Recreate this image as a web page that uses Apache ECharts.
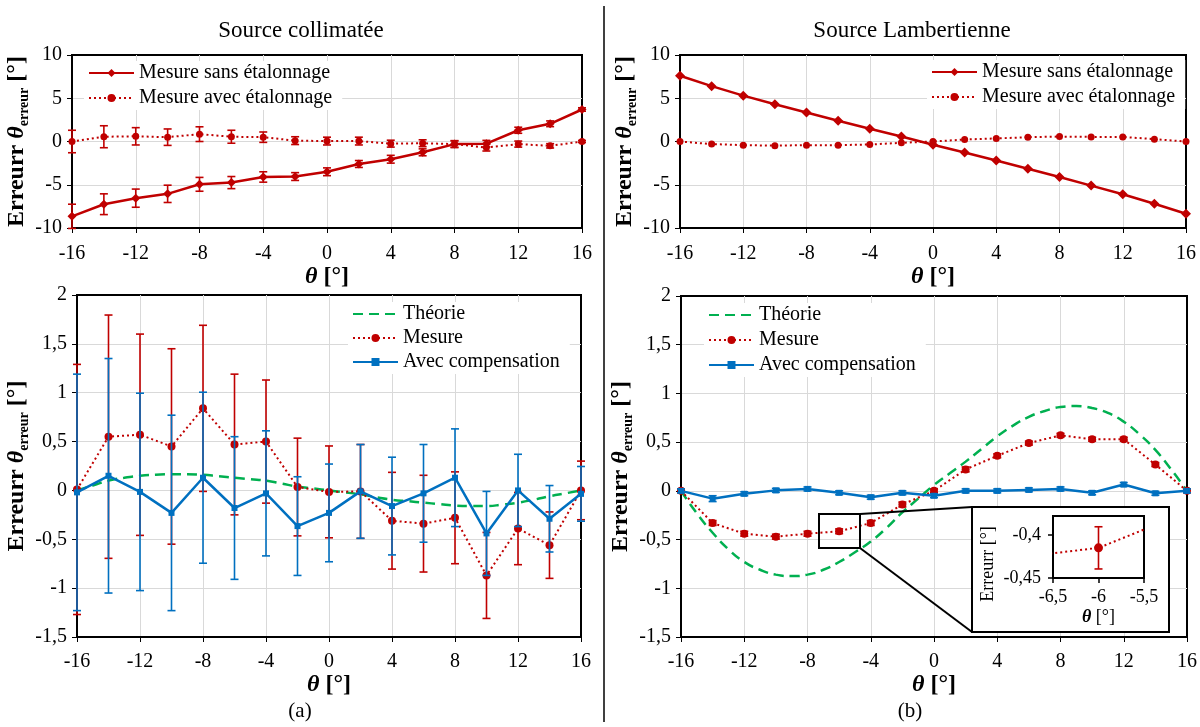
<!DOCTYPE html>
<html><head><meta charset="utf-8">
<script src="https://cdn.jsdelivr.net/npm/echarts@6/dist/echarts.min.js"></script>
<style>html,body{margin:0;padding:0;background:#fff}#c{width:1200px;height:727px}</style>
</head><body><div id="c"></div>
<script>
// ---------- data ----------
const theta = [-16,-14,-12,-10,-8,-6,-4,-2,0,2,4,6,8,10,12,14,16];
const theoTheta = [-16,-15,-14,-13,-12,-11,-10,-9,-8,-7,-6,-5,-4,-3,-2,-1,0,1,2,3,4,5,6,7,8,9,10,11,12,13,14,15,16];

// (a) top : source collimatée
const collSans    = [-8.65,-7.25,-6.55,-6.05,-4.95,-4.75,-4.1,-4.05,-3.5,-2.6,-2.05,-1.25,-0.3,-0.25,1.3,2.05,3.7];
const collSansErr = [1.4,1.2,1.05,1.0,0.8,0.7,0.6,0.45,0.45,0.4,0.45,0.4,0.37,0.38,0.35,0.33,0.2];
const collAvec    = [0,0.55,0.6,0.5,0.85,0.55,0.5,0.1,0.05,0.05,-0.25,-0.2,-0.3,-0.7,-0.3,-0.5,0];
const collAvecErr = [1.3,1.27,1.0,0.95,0.85,0.75,0.6,0.45,0.45,0.45,0.4,0.4,0.4,0.4,0.35,0.25,0.12];

// (b) top : source lambertienne
const lambSans = [7.6,6.4,5.3,4.3,3.35,2.4,1.47,0.58,-0.38,-1.27,-2.2,-3.15,-4.1,-5.1,-6.1,-7.2,-8.35];
const lambAvec = [0,-0.3,-0.42,-0.48,-0.42,-0.42,-0.35,-0.15,0,0.23,0.35,0.5,0.57,0.53,0.53,0.27,0];

// (a) bottom
const theoColl    = [0,0.05,0.1,0.13,0.15,0.16,0.165,0.165,0.16,0.145,0.13,0.115,0.1,0.07,0.04,0.02,0,-0.02,-0.04,-0.07,-0.095,-0.11,-0.125,-0.14,-0.155,-0.16,-0.16,-0.145,-0.125,-0.095,-0.06,-0.03,0];
const mesColl     = [0.01,0.55,0.57,0.45,0.84,0.47,0.5,0.035,-0.015,-0.01,-0.31,-0.34,-0.28,-0.87,-0.39,-0.56,0];
const mesCollErr  = [1.28,1.245,1.03,1.0,0.85,0.72,0.63,0.5,0.47,0.48,0.495,0.495,0.47,0.44,0.37,0.34,0.3];
const compColl    = [-0.02,0.15,-0.015,-0.23,0.13,-0.18,-0.03,-0.365,-0.23,-0.01,-0.16,-0.03,0.13,-0.44,0,-0.29,-0.035];
const compCollErr = [1.21,1.2,1.01,1.0,0.875,0.73,0.64,0.505,0.5,0.48,0.5,0.5,0.5,0.43,0.37,0.34,0.28];

// (b) bottom
const theoLamb    = [0,-0.23,-0.43,-0.6,-0.73,-0.81,-0.86,-0.875,-0.86,-0.81,-0.73,-0.63,-0.52,-0.38,-0.22,-0.08,0.06,0.18,0.3,0.43,0.56,0.67,0.76,0.82,0.86,0.87,0.85,0.8,0.71,0.58,0.42,0.22,0];
const mesLamb     = [0,-0.33,-0.44,-0.47,-0.44,-0.415,-0.33,-0.14,0,0.22,0.36,0.49,0.57,0.53,0.53,0.27,0];
const mesLambErr  = [0.02,0.025,0.025,0.025,0.025,0.0245,0.025,0.025,0.02,0.025,0.02,0.02,0.02,0.02,0.02,0.02,0.02];
const compLamb    = [0,-0.08,-0.03,0.005,0.02,-0.02,-0.065,-0.02,-0.05,0,0,0.01,0.02,-0.02,0.065,-0.025,0];
const compLambErr = [0.02,0.03,0.02,0.02,0.02,0.02,0.02,0.02,0.02,0.02,0.02,0.02,0.02,0.02,0.02,0.02,0.02];

// text
const titles = ['Source collimatée','Source Lambertienne'];
const panelLabels = ['(a)','(b)'];
const topLegend = ['Mesure sans étalonnage','Mesure avec étalonnage'];
const botLegend = ['Théorie','Mesure','Avec compensation'];

// ---------- styling ----------
const FONT = 'Liberation Serif';
const RED = '#C00000', BLUE = '#0070C0', GREEN = '#00B050', GRID = '#d9d9d9';
const comma = v => String(v).replace('.', ',');

function xAxisCfg(gi, nameGap, margin) {
  return {type:'value', gridIndex:gi, min:-16, max:16, interval:4,
    name:'{t|θ}{n| [°]}', nameLocation:'middle', nameGap,
    nameTextStyle:{rich:{
      t:{fontFamily:FONT,fontSize:24,fontWeight:'bold',fontStyle:'italic',color:'#000'},
      n:{fontFamily:FONT,fontSize:24,fontWeight:'bold',color:'#000'}}},
    axisLine:{onZero:false,lineStyle:{color:'#000',width:2}},
    axisTick:{show:true,length:5,lineStyle:{color:'#000',width:1}},
    axisLabel:{fontFamily:FONT,fontSize:20,color:'#000',margin,formatter:comma},
    splitLine:{show:true,showMinLine:false,showMaxLine:false,lineStyle:{color:GRID,width:1}}};
}
function yAxisCfg(gi, min, max, interval, nameGap) {
  return {type:'value', gridIndex:gi, min, max, interval,
    name:'{a|Erreurr }{t|θ}{s|erreur}{a| [°]}', nameLocation:'middle', nameGap,
    nameTextStyle:{rich:{
      a:{fontFamily:FONT,fontSize:24,fontWeight:'bold',color:'#000',lineHeight:30},
      t:{fontFamily:FONT,fontSize:24,fontWeight:'bold',fontStyle:'italic',color:'#000',lineHeight:30},
      s:{fontFamily:FONT,fontSize:14,fontWeight:'bold',color:'#000',lineHeight:14,verticalAlign:'bottom'}}},
    axisLine:{onZero:false,lineStyle:{color:'#000',width:2}},
    axisTick:{show:true,length:5,lineStyle:{color:'#000',width:1}},
    axisLabel:{fontFamily:FONT,fontSize:20,color:'#000',margin:10,formatter:comma},
    splitLine:{show:true,showMinLine:false,showMaxLine:false,lineStyle:{color:GRID,width:1}}};
}
const pairs = (xs, ys) => xs.map((t,i)=>[t, ys[i]]);
function errBar(gi, ys, es, color, z, clip) {
  return {type:'custom', xAxisIndex:gi, yAxisIndex:gi, z, clip:!!clip, silent:true,
    data: theta.map((t,i)=>[t, ys[i], es[i]]),
    renderItem:(p, api)=>{
      const x=api.value(0), y=api.value(1), e=api.value(2);
      const a=api.coord([x,y+e]), b=api.coord([x,y-e]);
      const st={stroke:color,lineWidth:1.6};
      const hw=4;
      return {type:'group',children:[
        {type:'line',shape:{x1:a[0],y1:a[1],x2:b[0],y2:b[1]},style:st},
        {type:'line',shape:{x1:a[0]-hw,y1:a[1],x2:a[0]+hw,y2:a[1]},style:st},
        {type:'line',shape:{x1:b[0]-hw,y1:b[1],x2:b[0]+hw,y2:b[1]},style:st}]};
    }};
}
function lineS(name, gi, xs, ys, color, opts) {
  return Object.assign({type:'line', name, xAxisIndex:gi, yAxisIndex:gi, data:pairs(xs, ys),
    color, itemStyle:{color}, emphasis:{disabled:true}}, opts);
}
const solidL = {width:2.5};
const dotL = {width:2, type:[2,3]};
const dashL = {width:2.5, type:[10,6]};

const legendBase = {orient:'vertical', itemWidth:45, itemHeight:10, selectedMode:false,
  backgroundColor:'#fff', textStyle:{fontFamily:FONT,fontSize:20,color:'#000'}};
const theoItem = {name:botLegend[0], itemStyle:{opacity:0}};

const option = {
  animation:false,
  grid:[
    {left:72, top:55, width:510, height:173, show:true, borderColor:'#000', borderWidth:2},
    {left:680, top:55, width:506, height:173, show:true, borderColor:'#000', borderWidth:2},
    {left:77, top:295, width:504, height:342, show:true, borderColor:'#000', borderWidth:2},
    {left:681, top:296, width:506, height:341, show:true, borderColor:'#000', borderWidth:2},
    {left:1053, top:516, width:91, height:62, show:true, borderColor:'#000', borderWidth:2, z:6}
  ],
  xAxis:[xAxisCfg(0,28,16), xAxisCfg(1,28,16), xAxisCfg(2,34,15), xAxisCfg(3,34,15),
    {type:'value', gridIndex:4, min:-6.5, max:-5.5, interval:0.5, z:6,
     name:'{t|θ}{n| [°]}', nameLocation:'middle', nameGap:30,
     nameTextStyle:{rich:{t:{fontFamily:FONT,fontSize:18,fontWeight:'bold',fontStyle:'italic',color:'#000'},
                          n:{fontFamily:FONT,fontSize:18,color:'#000'}}},
     axisLine:{onZero:false,lineStyle:{color:'#000',width:2}},
     axisTick:{show:true,length:5,lineStyle:{color:'#000',width:1.5}},
     axisLabel:{fontFamily:FONT,fontSize:18,color:'#000',margin:10,formatter:comma},
     splitLine:{show:false}}],
  yAxis:[yAxisCfg(0,-10,10,5,34), yAxisCfg(1,-10,10,5,34), yAxisCfg(2,-1.5,2,0.5,39), yAxisCfg(3,-1.5,2,0.5,39),
    {type:'value', gridIndex:4, min:-0.45, max:-0.378, interval:0.05, z:6,
     name:'Erreurr [°]', nameLocation:'middle', nameGap:56,
     nameTextStyle:{fontFamily:FONT,fontSize:18,color:'#000',padding:[0,34,0,0]},
     axisLine:{onZero:false,lineStyle:{color:'#000',width:2}},
     axisTick:{show:true,length:5,lineStyle:{color:'#000',width:1.5}},
     axisLabel:{fontFamily:FONT,fontSize:18,color:'#000',margin:12,formatter:comma,showMaxLabel:false},
     splitLine:{show:false}}],
  legend:[
    Object.assign({}, legendBase, {data:topLegend, left:84, top:61, itemGap:5, padding:[2,10,2,4]}),
    Object.assign({}, legendBase, {data:topLegend, left:927, top:60, itemGap:5, padding:[2,10,2,4]}),
    Object.assign({}, legendBase, {data:[theoItem, botLegend[1], botLegend[2]], left:348, top:302, itemGap:4, padding:[2,10,2,4]}),
    Object.assign({}, legendBase, {data:[theoItem, botLegend[1], botLegend[2]], left:704, top:303, itemGap:5, padding:[2,10,2,4]})
  ],
  series:[
    // top-left
    errBar(0, collSans, collSansErr, RED, 3),
    errBar(0, collAvec, collAvecErr, RED, 3),
    lineS(topLegend[0], 0, theta, collSans, RED, {symbol:'diamond', symbolSize:9, lineStyle:solidL, z:4}),
    lineS(topLegend[1], 0, theta, collAvec, RED, {symbol:'circle', symbolSize:7, lineStyle:dotL, z:4}),
    // top-right
    lineS(topLegend[0], 1, theta, lambSans, RED, {symbol:'diamond', symbolSize:10, lineStyle:solidL, z:4}),
    lineS(topLegend[1], 1, theta, lambAvec, RED, {symbol:'circle', symbolSize:7, lineStyle:dotL, z:4}),
    // bottom-left
    lineS(botLegend[0], 2, theoTheta, theoColl, GREEN, {symbol:'none', smooth:true, lineStyle:dashL, z:3}),
    errBar(2, mesColl, mesCollErr, RED, 3),
    lineS(botLegend[1], 2, theta, mesColl, RED, {symbol:'circle', symbolSize:8, lineStyle:dotL, z:3}),
    errBar(2, compColl, compCollErr, BLUE, 4),
    lineS(botLegend[2], 2, theta, compColl, BLUE, {symbol:'rect', symbolSize:6, lineStyle:solidL, z:4}),
    // bottom-right
    lineS(botLegend[0], 3, theoTheta, theoLamb, GREEN, {symbol:'none', smooth:true, lineStyle:dashL, z:3}),
    errBar(3, mesLamb, mesLambErr, RED, 3),
    lineS(botLegend[1], 3, theta, mesLamb, RED, {symbol:'circle', symbolSize:8, lineStyle:dotL, z:3}),
    errBar(3, compLamb, compLambErr, BLUE, 4),
    lineS(botLegend[2], 3, theta, compLamb, BLUE, {symbol:'rect', symbolSize:6, lineStyle:solidL, z:4}),
    // inset (zoom of bottom-right "Mesure")
    errBar(4, mesLamb, mesLambErr, RED, 7, true),
    lineS('inset', 4, theta, mesLamb, RED, {symbol:'circle', symbolSize:9, lineStyle:dotL, z:7, clip:true})
  ],
  graphic:[
    {type:'line', z:1, shape:{x1:604,y1:6,x2:604,y2:722}, style:{stroke:'#000',lineWidth:1.5}},
    {type:'text', z:1, x:301, y:31, style:{text:titles[0], font:'23px "Liberation Serif"', fill:'#000', textAlign:'center', textVerticalAlign:'middle', align:'center', verticalAlign:'middle'}},
    {type:'text', z:1, x:912, y:31, style:{text:titles[1], font:'23px "Liberation Serif"', fill:'#000', textAlign:'center', textVerticalAlign:'middle', align:'center', verticalAlign:'middle'}},
    {type:'text', z:1, x:300, y:711, style:{text:panelLabels[0], font:'21px "Liberation Serif"', fill:'#000', textAlign:'center', textVerticalAlign:'middle', align:'center', verticalAlign:'middle'}},
    {type:'text', z:1, x:910, y:711, style:{text:panelLabels[1], font:'21px "Liberation Serif"', fill:'#000', textAlign:'center', textVerticalAlign:'middle', align:'center', verticalAlign:'middle'}},
    // zoom box and inset frame
    {type:'rect', z:5, shape:{x:972,y:507,width:197,height:125}, style:{fill:'#fff',stroke:'#000',lineWidth:2}},
    {type:'rect', z:5, shape:{x:819,y:514,width:41,height:34}, style:{fill:'none',stroke:'#000',lineWidth:2}},
    {type:'line', z:5, shape:{x1:860,y1:514,x2:972,y2:507}, style:{stroke:'#000',lineWidth:2}},
    {type:'line', z:5, shape:{x1:860,y1:548,x2:972,y2:632}, style:{stroke:'#000',lineWidth:2}}
  ]
};
const chart = echarts.init(document.getElementById('c'));
chart.setOption(option);
</script>
</body></html>
